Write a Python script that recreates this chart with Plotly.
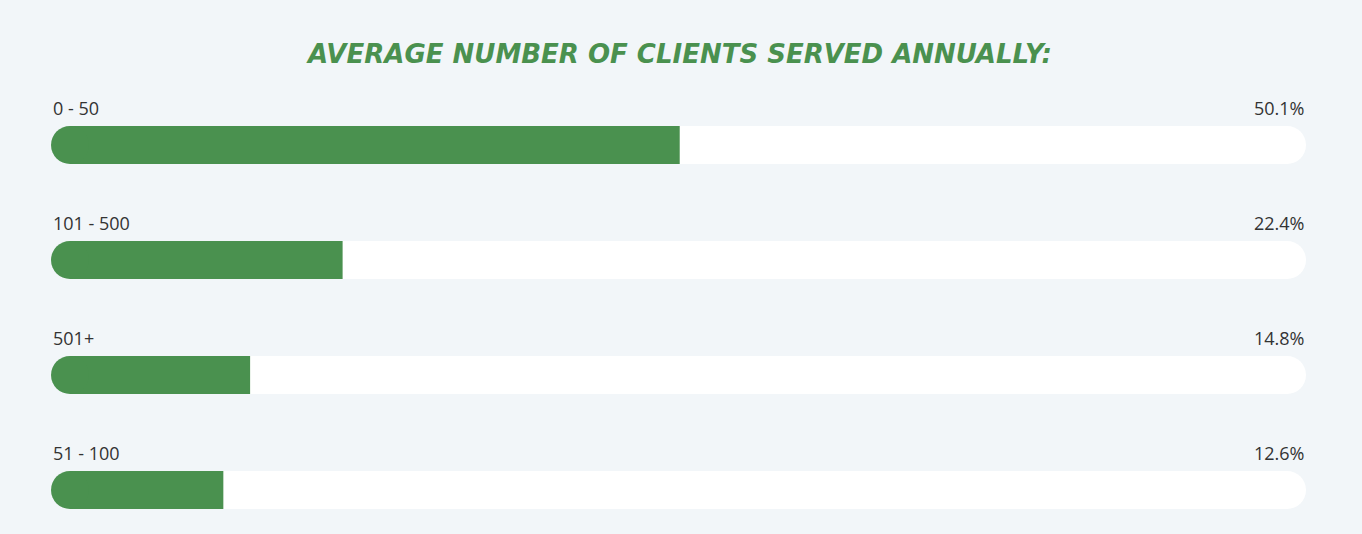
import plotly.graph_objects as go

categories = ["0 - 50", "101 - 500", "501+", "51 - 100"]
values = [50.1, 22.4, 14.8, 12.6]
value_labels = ["50.1%", "22.4%", "14.8%", "12.6%"]

W, H = 1362, 534
GREEN = "#4a914f"
BG = "#f2f6f9"
r = 1.561
ys = list(range(len(categories)))

fig = go.Figure()
fig.add_bar(x=[100]*4, y=ys, base=0, orientation="h", width=0.33,
            marker=dict(color="white", line=dict(width=0)), hoverinfo="skip")
fig.add_scatter(x=[100]*4, y=ys, mode="markers",
                marker=dict(size=38, color="white", line=dict(width=0)), hoverinfo="skip")
fig.add_scatter(x=[0]*4, y=ys, mode="markers",
                marker=dict(size=38, color=GREEN, line=dict(width=0)), hoverinfo="skip")
fig.add_bar(x=values, y=ys, base=0, orientation="h", width=0.33,
            marker=dict(color=GREEN, line=dict(width=0)), hoverinfo="skip")

for i, (c, v) in enumerate(zip(categories, value_labels)):
    fig.add_annotation(x=-r, y=i - 0.32, text=c, showarrow=False, xanchor="left",
                       font=dict(family="Open Sans", size=18, color="#333"))
    fig.add_annotation(x=100 + r, y=i - 0.32, text=v, showarrow=False, xanchor="right",
                       font=dict(family="Open Sans", size=18, color="#333"))

fig.add_annotation(xref="paper", yref="paper", x=0.5, y=1 - 54/534, yanchor="middle",
                   text="<b><i>AVERAGE NUMBER OF CLIENTS SERVED ANNUALLY:</i></b>",
                   showarrow=False, font=dict(family="DejaVu Sans", size=26, color=GREEN))

fig.update_layout(
    width=W, height=H, margin=dict(l=51, r=56, t=0, b=0),
    paper_bgcolor=BG, plot_bgcolor=BG, showlegend=False, barmode="overlay",
    xaxis=dict(range=[-r, 100 + r], visible=False, fixedrange=True),
    yaxis=dict(range=[(534 - 145) / 115, -145 / 115], visible=False, fixedrange=True),
)
fig.write_html("out.html", config={"displayModeBar": False})
with open("out.html", encoding="utf-8") as f:
    html = f.read()
html = html.replace("<head>", "<head><style>html,body{margin:0;padding:0;background:%s;overflow:hidden}</style>" % BG, 1)
with open("out.html", "w", encoding="utf-8") as f:
    f.write(html)
